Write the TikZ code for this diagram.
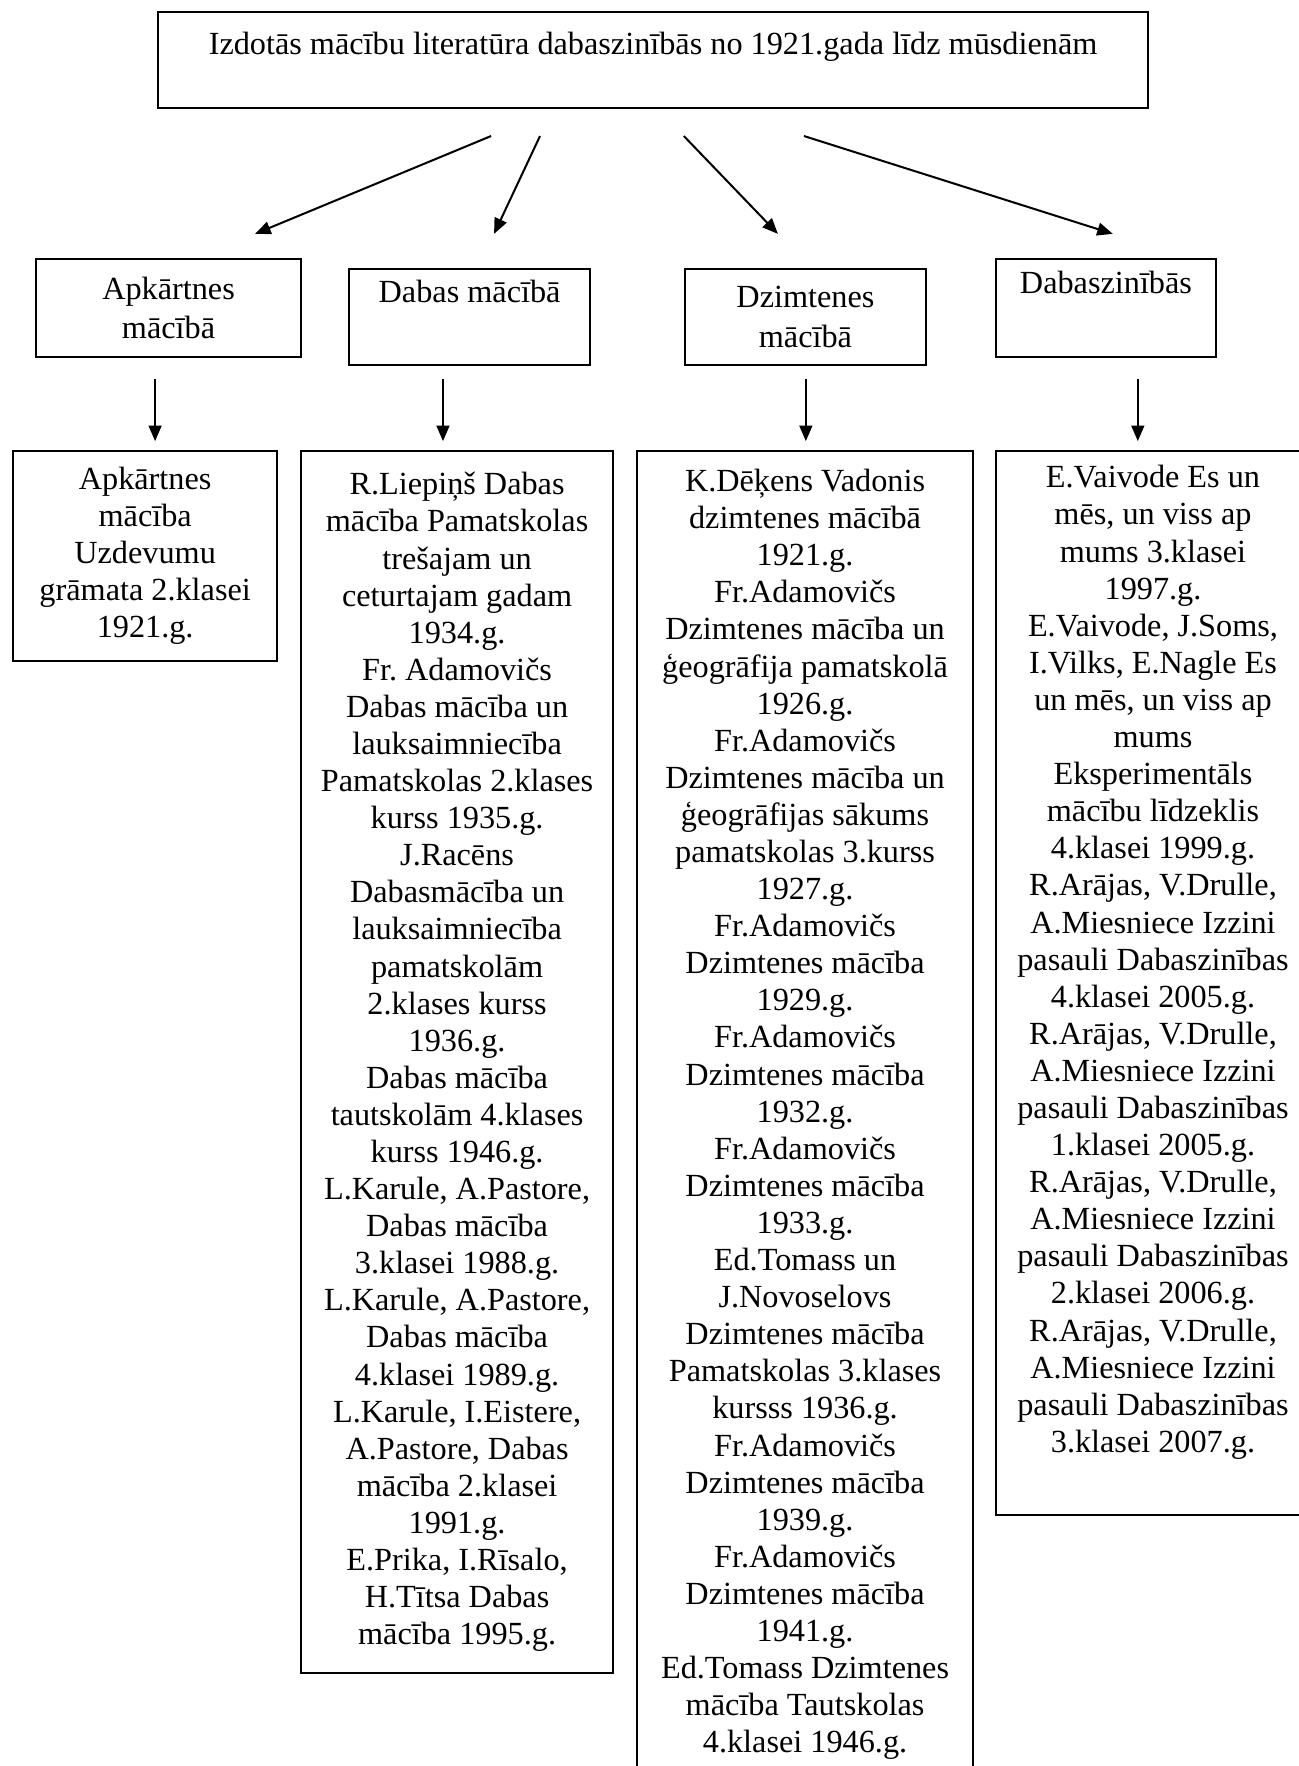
\documentclass[tikz,border=0pt]{standalone}
\usepackage{fontspec}
\setmainfont{Liberation Serif}
\usetikzlibrary{arrows.meta}
\frenchspacing

\begin{document}
\begin{tikzpicture}[x=1pt, y=-1pt]
            \tikzset{box/.style = {draw, line width=0.8pt, anchor=north west, inner sep=0pt, align=center, font=\fontsize{12}{14.8}\selectfont}}
            \tikzset{lit/.style = {box, font=\fontsize{12}{13.8}\selectfont}}
            \tikzset{arr/.style = {-{Triangle[length=5.8pt,width=4.8pt]}, line width=0.75pt}}

            \useasboundingbox (0,0) rectangle (483.2,657);

            \node[box, minimum width=368.3pt, minimum height=35.7pt] (title) at (58.4,4.1) {Izdotās mācību literatūra dabaszinībās no 1921.gada līdz mūsdienām\\[-7pt] \strut};

            \node[box, minimum width=98.6pt, minimum height=36.4pt] (apk) at (13.0,96.0) {Apkārtnes\\mācībā};
            \node[box, minimum width=89.6pt, minimum height=35.7pt] (dab) at (129.5,99.7) {Dabas mācībā\\ \strut};
            \node[box, minimum width=89.7pt, minimum height=35.7pt] (dzim) at (254.4,99.7) {Dzimtenes\\mācībā};
            \node[box, minimum width=81.9pt, minimum height=36.4pt] (dzin) at (370.1,96.0) {Dabaszinībās\\ \strut};

            \node[lit, minimum width=98.2pt, minimum height=78.1pt] (apklit) at (4.5,167.4) {Apkārtnes\\mācība\\Uzdevumu\\grāmata 2.klasei\\1921.g.};
            \node[lit, minimum width=116.1pt, minimum height=454.6pt] (dablit) at (111.6,167.4) {R.Liepiņš Dabas\\mācība Pamatskolas\\trešajam un\\ceturtajam gadam\\1934.g.\\Fr. Adamovičs\\Dabas mācība un\\lauksaimniecība\\Pamatskolas 2.klases\\kurss 1935.g.\\J.Racēns\\Dabasmācība un\\lauksaimniecība\\pamatskolām\\2.klases kurss\\1936.g.\\Dabas mācība\\tautskolām 4.klases\\kurss 1946.g.\\L.Karule, A.Pastore,\\Dabas mācība\\3.klasei 1988.g.\\L.Karule, A.Pastore,\\Dabas mācība\\4.klasei 1989.g.\\L.Karule, I.Eistere,\\A.Pastore, Dabas\\mācība 2.klasei\\1991.g.\\E.Prika, I.Rīsalo,\\H.Tītsa Dabas\\mācība 1995.g.};
            \node[lit, minimum width=125pt, minimum height=493.6pt] (dzimlit) at (236.6,167.4) {K.Dēķens Vadonis\\dzimtenes mācībā\\1921.g.\\Fr.Adamovičs\\Dzimtenes mācība un\\ģeogrāfija pamatskolā\\1926.g.\\Fr.Adamovičs\\Dzimtenes mācība un\\ģeogrāfijas sākums\\pamatskolas 3.kurss\\1927.g.\\Fr.Adamovičs\\Dzimtenes mācība\\1929.g.\\Fr.Adamovičs\\Dzimtenes mācība\\1932.g.\\Fr.Adamovičs\\Dzimtenes mācība\\1933.g.\\Ed.Tomass un\\J.Novoselovs\\Dzimtenes mācība\\Pamatskolas 3.klases\\kursss 1936.g.\\Fr.Adamovičs\\Dzimtenes mācība\\1939.g.\\Fr.Adamovičs\\Dzimtenes mācība\\1941.g.\\Ed.Tomass Dzimtenes\\mācība Tautskolas\\4.klasei 1946.g.};
            \node[lit, minimum width=116.9pt, minimum height=395.8pt] (dzinlit) at (370.1,167.4) {E.Vaivode Es un\\mēs, un viss ap\\mums 3.klasei\\1997.g.\\E.Vaivode, J.Soms,\\I.Vilks, E.Nagle Es\\un mēs, un viss ap\\mums\\Eksperimentāls\\mācību līdzeklis\\4.klasei 1999.g.\\R.Arājas, V.Drulle,\\A.Miesniece Izzini\\pasauli Dabaszinības\\4.klasei 2005.g.\\R.Arājas, V.Drulle,\\A.Miesniece Izzini\\pasauli Dabaszinības\\1.klasei 2005.g.\\R.Arājas, V.Drulle,\\A.Miesniece Izzini\\pasauli Dabaszinības\\2.klasei 2006.g.\\R.Arājas, V.Drulle,\\A.Miesniece Izzini\\pasauli Dabaszinības\\3.klasei 2007.g.\\ \strut};

            % arrows
            \coordinate (s1) at (182.7,50.6);
            \coordinate (s2) at (200.9,50.6);
            \coordinate (s3) at (254.4,50.6);
            \coordinate (s4) at (299.1,50.6);
            \coordinate (e1) at (94.9,87.0);
            \coordinate (e2) at (183.8,87.0);
            \coordinate (e3) at (289.4,87.0);
            \coordinate (e4) at (414.0,87.0);
            \draw[arr] (s1) -- (e1);
            \draw[arr] (s2) -- (e2);
            \draw[arr] (s3) -- (e3);
            \draw[arr] (s4) -- (e4);

            \coordinate (v1) at (57.7,141.0);
            \coordinate (v2) at (164.8,141.0);
            \coordinate (v3) at (299.8,141.0);
            \coordinate (v4) at (423.3,141.0);
            \coordinate (w1) at (57.7,164.1);
            \coordinate (w2) at (164.8,164.1);
            \coordinate (w3) at (299.8,164.1);
            \coordinate (w4) at (423.3,164.1);
            \draw[arr] (v1) -- (w1);
            \draw[arr] (v2) -- (w2);
            \draw[arr] (v3) -- (w3);
            \draw[arr] (v4) -- (w4);

\end{tikzpicture}
\end{document}
